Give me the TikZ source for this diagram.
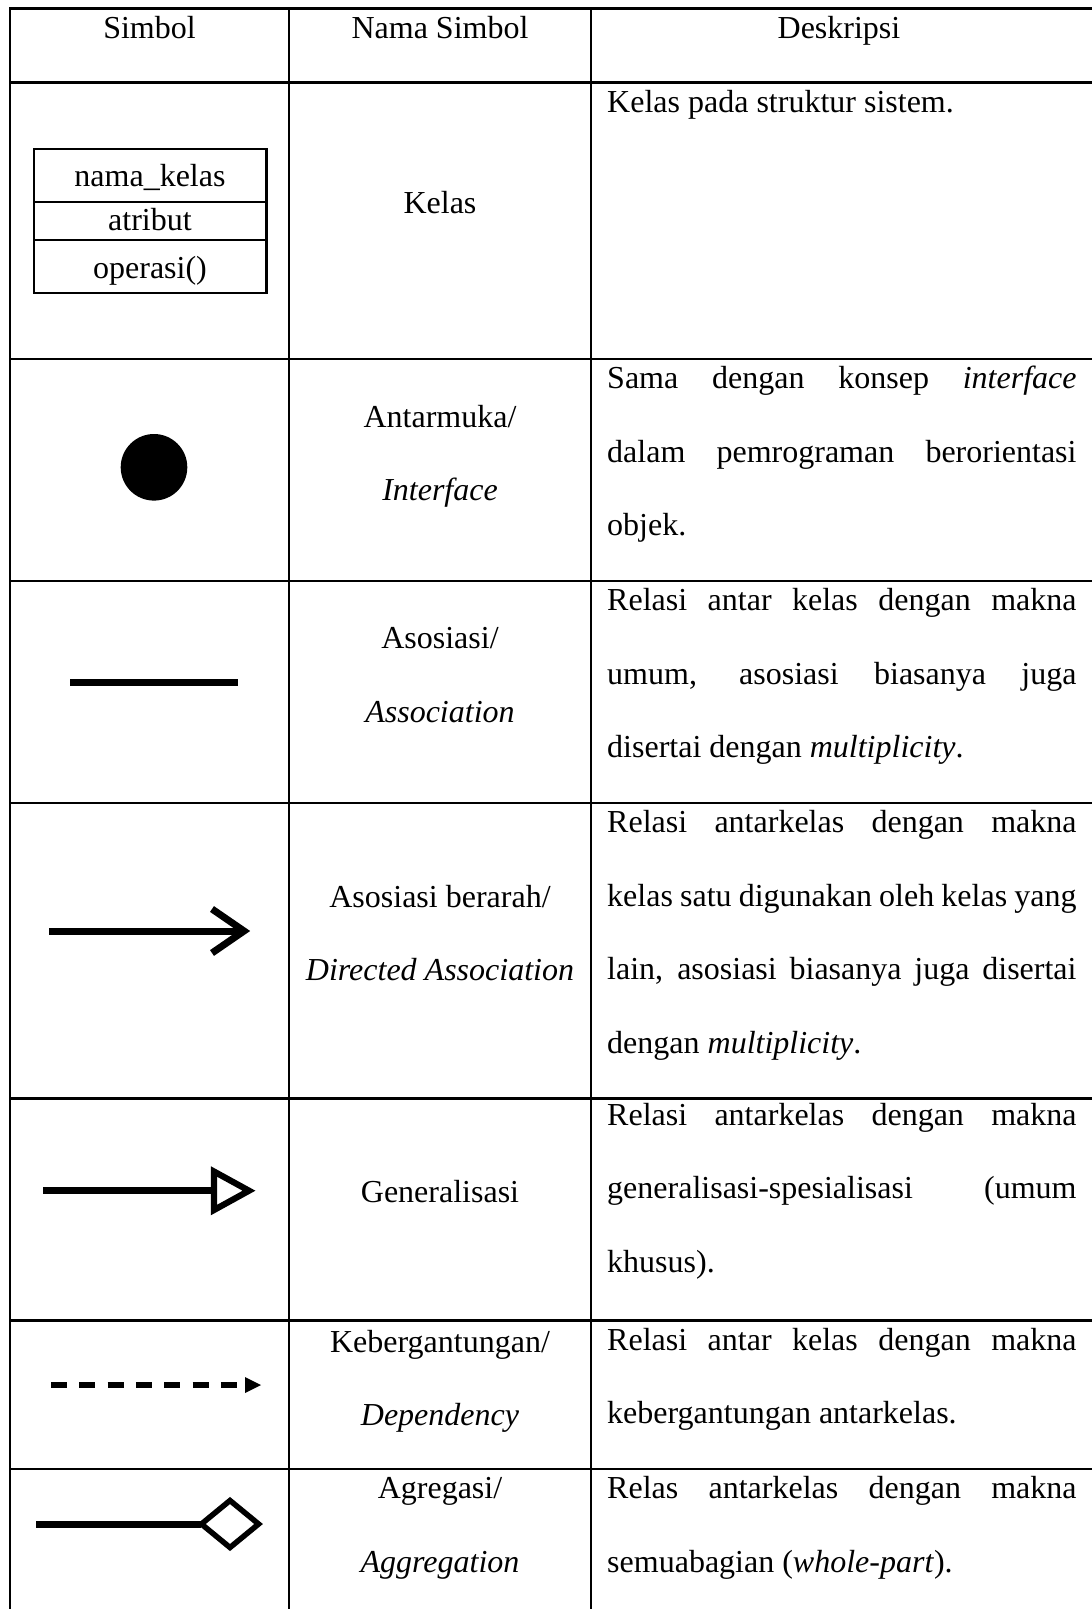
\documentclass[tikz,border=0pt]{standalone}
\usepackage{fontspec}
\setmainfont{Liberation Serif}
\newlength\pxu
\setlength\pxu{0.375pt}
\newcommand\JL[1]{\makebox[469.3\pxu][s]{#1}}
\begin{document}
\begin{tikzpicture}[x=0.375pt, y=-0.375pt,
  grid/.style={line width=2.5\pxu, line cap=rect},
  txt/.style={font=\fontsize{12}{14}\selectfont, inner sep=0pt, anchor=base},
  dtxt/.style={txt, anchor=base west},
  symline/.style={line width=7\pxu},
  clsline/.style={line width=2.2\pxu}]
\useasboundingbox (0,0) rectangle (1091,1609);
% table grid
\foreach \y in {8.3,82.7,359,581,803,1098.7,1320.7,1469}
  \draw[grid] (10,\y) -- (1091,\y);
\foreach \x in {10,289,591}
  \draw[grid] (\x,8.3) -- (\x,1609);
% header
\node[txt] (h1) at (149.5,39) {Simbol};
\node[txt] (h2) at (440,39) {Nama Simbol};
\node[txt] (h3) at (839,39) {Deskripsi};
% row 1: class
\draw[clsline] (33.7,149) rectangle (266.4,293);
\draw[clsline] (33.7,202) -- (266.4,202);
\draw[clsline] (33.7,239.7) -- (266.4,239.7);
\node[txt] (c1) at (150,186.7) {nama\_kelas};
\node[txt] (c2) at (150,230) {atribut};
\node[txt] (c3) at (150,278) {operasi()};
\node[txt] (n1) at (440,213) {Kelas};
\node[dtxt] (d1a) at (606.7,112.5) {Kelas pada struktur sistem.};
% row 2: interface
\node[circle, fill=black, minimum size=66.6\pxu, inner sep=0pt] (iface) at (154,467.3) {};
\node[txt] (n2a) at (440,427) {Antarmuka/};
\node[txt] (n2b) at (440,500) {\textit{Interface}};
\node[dtxt] (d2a) at (606.7,388.5) {\JL{Sama dengan konsep \textit{interface}}};
\node[dtxt] (d2b) at (606.7,462) {\JL{dalam pemrograman berorientasi}};
\node[dtxt] (d2c) at (606.7,535.5) {objek.};
% row 3: association
\coordinate (asA) at (70,682.3);
\coordinate (asB) at (238,682.3);
\draw[symline] (asA) -- (asB);
\node[txt] (n3a) at (440,648) {Asosiasi/};
\node[txt] (n3b) at (440,722) {\textit{Association}};
\node[dtxt] (d3a) at (606.7,610.5) {\JL{Relasi antar kelas dengan makna}};
\node[dtxt] (d3b) at (606.7,684) {\JL{umum, asosiasi biasanya juga}};
\node[dtxt] (d3c) at (606.7,757.5) {disertai dengan \textit{multiplicity}.};
% row 4: directed association
\coordinate (daA) at (49,931);
\coordinate (daB) at (244,931);
\coordinate (daU) at (212,909);
\coordinate (daL) at (212,953);
\draw[symline] (daA) -- (daB);
\draw[symline, line join=miter] (daU) -- (daB) -- (daL);
\node[txt] (n4a) at (440,907) {Asosiasi berarah/};
\node[txt] (n4b) at (440,980) {\textit{Directed Association}};
\node[dtxt] (d4a) at (606.7,832.5) {\JL{Relasi antarkelas dengan makna}};
\node[dtxt] (d4b) at (606.7,906) {\JL{kelas satu digunakan oleh kelas yang}};
\node[dtxt] (d4c) at (606.7,979.5) {\JL{lain, asosiasi biasanya juga disertai}};
\node[dtxt] (d4d) at (606.7,1053.5) {dengan \textit{multiplicity}.};
% row 5: generalization
\coordinate (gA) at (43,1190.7);
\coordinate (gB) at (214,1190.7);
\coordinate (gU) at (214,1171.5);
\coordinate (gT) at (249,1190.7);
\coordinate (gL) at (214,1210);
\draw[symline] (gA) -- (gB);
\draw[line width=6.2\pxu, line join=miter] (gU) -- (gT) -- (gL) -- cycle;
\node[txt] (n5) at (440,1202) {Generalisasi};
\node[dtxt] (d5a) at (606.7,1125) {\JL{Relasi antarkelas dengan makna}};
\node[dtxt] (d5b) at (606.7,1198.5) {\JL{generalisasi-spesialisasi (umum}};
\node[dtxt] (d5c) at (606.7,1272) {khusus).};
% row 6: dependency
\coordinate (dA) at (51,1385);
\coordinate (dB) at (245,1385);
\coordinate (dT) at (261,1385);
\draw[line width=5.2\pxu, dash pattern=on 16\pxu off 12.33\pxu] (dA) -- (dB);
\fill ([yshift=8\pxu]dB) -- (dT) -- ([yshift=-8\pxu]dB) -- cycle;
\node[txt] (n6a) at (440,1352) {Kebergantungan/};
\node[txt] (n6b) at (440,1425) {\textit{Dependency}};
\node[dtxt] (d6a) at (606.7,1350) {\JL{Relasi antar kelas dengan makna}};
\node[dtxt] (d6b) at (606.7,1423.5) {kebergantungan antarkelas.};
% row 7: aggregation
\coordinate (agA) at (36,1524);
\coordinate (agL) at (201.4,1524);
\coordinate (agT) at (230,1500.5);
\coordinate (agR) at (258.6,1524);
\coordinate (agB) at (230,1547.5);
\draw[symline] (agA) -- (agL);
\draw[line width=5.5\pxu, line join=miter] (agL) -- (agT) -- (agR) -- (agB) -- cycle;
\node[txt] (n7a) at (440,1498.5) {Agregasi/};
\node[txt] (n7b) at (440,1572) {\textit{Aggregation}};
\node[dtxt] (d7a) at (606.7,1498.5) {\JL{Relas antarkelas dengan makna}};
\node[dtxt] (d7b) at (606.7,1572) {semuabagian (\textit{whole-part}).};
\end{tikzpicture}
\end{document}
